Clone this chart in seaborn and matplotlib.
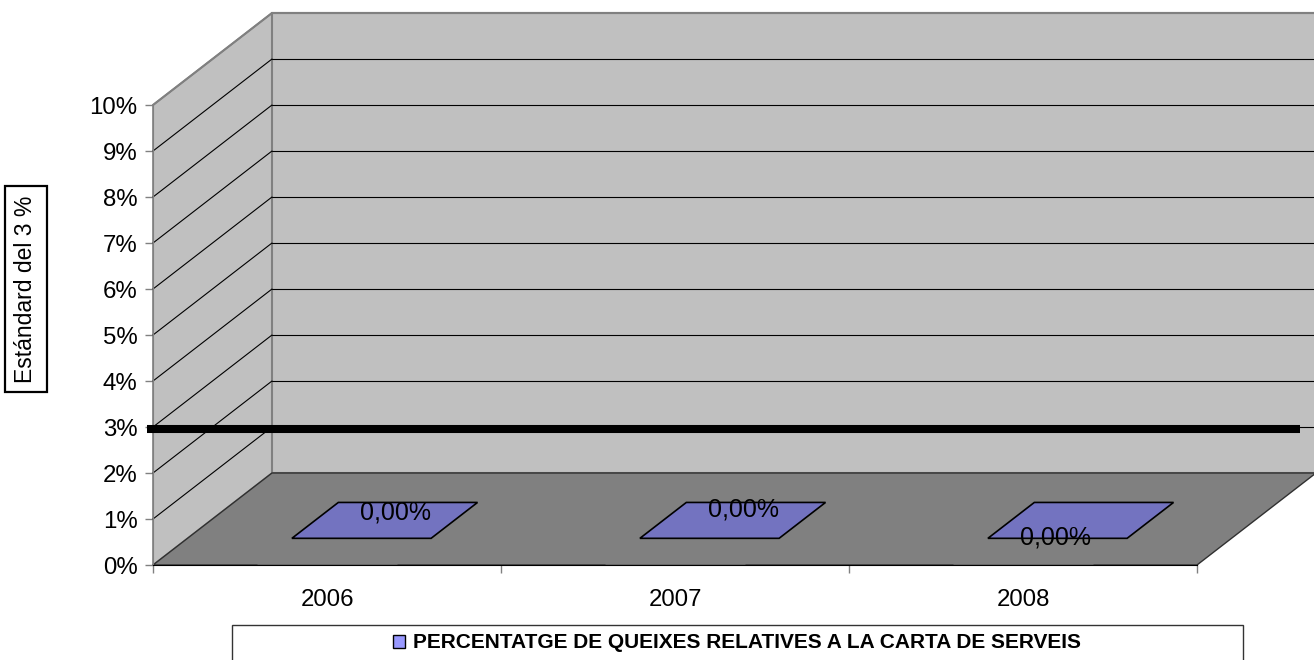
import matplotlib
matplotlib.use("Agg")
import matplotlib.pyplot as plt
from matplotlib.patches import Polygon, Rectangle, Patch
import seaborn as sns

# chart data
years = ["2006", "2007", "2008"]
values = [0.0, 0.0, 0.0]
standard = 3.0
y_ticks = list(range(0, 11))
y_tick_labels = [f"{t}%" for t in y_ticks]
series_name = "PERCENTATGE DE QUEIXES RELATIVES A LA CARTA DE SERVEIS"
y_label = "Estándard del 3 %"

# layout / style
W, H = 1314, 660
WALL = "#c0c0c0"
FLOOR = "#808080"
BAR = "#7373c0"
LEGEND_BAR = "#9999ff"
DX, DY = 119 / 348, 2.0          # depth offset of the 3d box, in data units
label_offsets = [(11, 8), (11, 11), (-25, -17)]  # pixels, excel placed them oddly

sns.set_style("white")
plt.rcParams["font.family"] = ["Liberation Sans", "DejaVu Sans"]
plt.rcParams["text.color"] = "black"
plt.rcParams["xtick.color"] = "black"
plt.rcParams["ytick.color"] = "black"

fig = plt.figure(figsize=(W / 100, H / 100), dpi=100)
ax = fig.add_axes([153 / W, 95 / H, 1044 / W, 460 / H])

# zero-height bars through seaborn set up the categorical axis
sns.barplot(x=years, y=values, ax=ax, color=BAR, width=0.4)
ax.set_xlim(-0.5, len(years) - 0.5)
ax.set_ylim(0, 10)

x_left, x_right = -0.5, len(years) - 0.5

# side wall, back wall, floor
side = Polygon([(x_left, 0), (x_left, 10), (x_left + DX, 10 + DY), (x_left + DX, DY)],
               closed=True, fc=WALL, ec="#808080", lw=1.2, zorder=0.5, clip_on=False)
back = Polygon([(x_left + DX, DY), (x_right + DX, DY), (x_right + DX, 10 + DY), (x_left + DX, 10 + DY)],
               closed=True, fc=WALL, ec="#808080", lw=1.5, zorder=0.5, clip_on=False)
floor = Polygon([(x_left, 0), (x_right, 0), (x_right + DX, DY), (x_left + DX, DY)],
                closed=True, fc=FLOOR, ec="#303030", lw=1.0, zorder=0.7, clip_on=False)
ax.add_patch(side)
ax.add_patch(back)

# gridlines on back and side wall
for t in y_ticks[1:]:
    c = "#808080" if t == 10 else "black"
    lw = 1.5 if t == 10 else 0.8
    ax.plot([x_left + DX, x_right + DX], [t + DY, t + DY], color=c, lw=lw, zorder=0.6, clip_on=False)
    ax.plot([x_left, x_left + DX], [t, t + DY], color=c, lw=lw, zorder=0.6, clip_on=False)
ax.add_patch(floor)

# flat bars (value 0 -> only top face visible)
f, b = 0.29, 0.68
for i, v in enumerate(values):
    x0, x1 = i - 0.2, i + 0.2
    top = Polygon([(x0 + f * DX, v + f * DY), (x1 + f * DX, v + f * DY),
                   (x1 + b * DX, v + b * DY), (x0 + b * DX, v + b * DY)],
                  closed=True, fc=BAR, ec="black", lw=1.2, zorder=2, clip_on=False)
    ax.add_patch(top)
    cx, cy = i + (f + b) / 2 * DX, v + (f + b) / 2 * DY
    ax.annotate(f"{v:.2f}%".replace(".", ","), (cx, cy), xytext=label_offsets[i],
                textcoords="offset pixels", ha="center", va="center",
                fontsize=18, zorder=3, annotation_clip=False)

# standard line
ax.plot([x_left - 0.017, x_right + 0.296], [standard - 0.04, standard - 0.04], color="black",
        lw=5.8, solid_capstyle="butt", zorder=4, clip_on=False)

# axes
for s in ["top", "right"]:
    ax.spines[s].set_visible(False)
ax.spines["left"].set_color("#808080")
ax.spines["bottom"].set_color("black")
ax.spines["left"].set_zorder(1)
ax.set_yticks(y_ticks)
ax.set_yticklabels(y_tick_labels)
ax.tick_params(axis="y", length=6, width=1, color="#808080", direction="out",
               pad=5, labelsize=17.3, labelcolor="black", left=True)
ax.set_xticks([x_left + k for k in range(len(years) + 1)])
ax.set_xticklabels([])
ax.set_xticks(list(range(len(years))), minor=True)
ax.set_xticklabels(years, minor=True)
ax.tick_params(axis="x", which="major", length=6, width=1, color="#808080", direction="out", bottom=True)
ax.tick_params(axis="x", which="minor", length=0, pad=17, labelsize=17.3, labelcolor="black")
ax.set_xlabel("")
ax.set_ylabel("")

# boxed y label
fig.text(26 / W, 1 - 289 / H, y_label, rotation=90, ha="center", va="center",
         fontsize=16.5, bbox=dict(boxstyle="square,pad=0.4", fc="white", ec="black", lw=1.6))

# legend with a frame that runs off the bottom
fig.patches.append(Rectangle((232 / W, -0.01), (1243 - 232) / W, (660 - 625) / H + 0.01,
                             transform=fig.transFigure, fill=False, ec="#333333", lw=1))
fig.legend(handles=[Patch(fc=LEGEND_BAR, ec="black", label=series_name)],
           loc="center", bbox_to_anchor=(737 / W, 1 - 643 / H), frameon=False,
           prop={"weight": "bold", "size": 15}, handlelength=0.6, handleheight=0.6,
           handletextpad=0.4)

fig.savefig("out.png", dpi=100)
